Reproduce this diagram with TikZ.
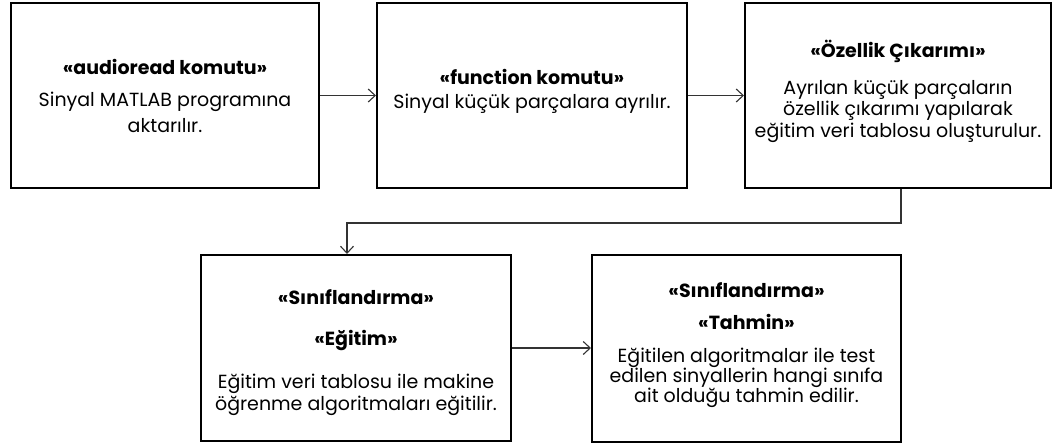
\documentclass[tikz,border=0pt]{standalone}
\usepackage{fontspec}
\setmainfont{Poppins}
\usetikzlibrary{arrows.meta}

\begin{document}
\begin{tikzpicture}[x=1pt,y=-1pt,
  stepbox/.style={draw=black,line width=2pt,align=center,inner sep=0pt,
    font=\fontsize{19}{21.5}\selectfont},
  conn/.style={draw=black!80,line width=1.1pt,-{Straight Barb[length=7pt,width=13pt]}}]
\useasboundingbox (0,0) rectangle (1053,445);
% first row
\node [stepbox,minimum width=308pt,minimum height=185pt] (read) at (165,95.5)
  {\textbf{«audioread komutu»}\\[11pt]Sinyal MATLAB programına\\[4pt]aktarılır.};
\node [stepbox,minimum width=310pt,minimum height=185pt] (split) at (532,95.5)
  {\textbf{«function komutu»}\\[2pt]Sinyal küçük parçalara ayrılır.\\[-8pt]};
\node [stepbox,minimum width=306pt,minimum height=185pt] (feat) at (898,95.5)
  {\textbf{«Özellik Çıkarımı»}\\[15pt]Ayrılan küçük parçaların\\özellik çıkarımı yapılarak\\eğitim veri tablosu oluşturulur.\\[-8pt]};
% second row
\node [stepbox,minimum width=310pt,minimum height=186pt] (train) at (356,348)
  {\rule{0pt}{24pt}\textbf{«Sınıflandırma»}\\[19pt]\textbf{«Eğitim»}\\[22pt]Eğitim veri tablosu ile makine\\öğrenme algoritmaları eğitilir.};
\node [stepbox,font=\fontsize{19}{20}\selectfont,minimum width=309pt,minimum height=187pt] (predict) at (746.5,348)
  {\textbf{«Sınıflandırma»}\\[12pt]\textbf{«Tahmin»}\\[13pt]Eğitilen algoritmalar ile test\\edilen sinyallerin hangi sınıfa\\ait olduğu tahmin edilir.\\[-9pt]};
% connectors
\draw [conn] (read.east) -- (split.west);
\draw [conn] (split.east) -- (feat.west);
\draw [conn] ([xshift=3pt]feat.south) -- ++(0,34) -| ([xshift=-9pt]train.north);
\draw [conn] (train.east) -- (predict.west);
\end{tikzpicture}
\end{document}
